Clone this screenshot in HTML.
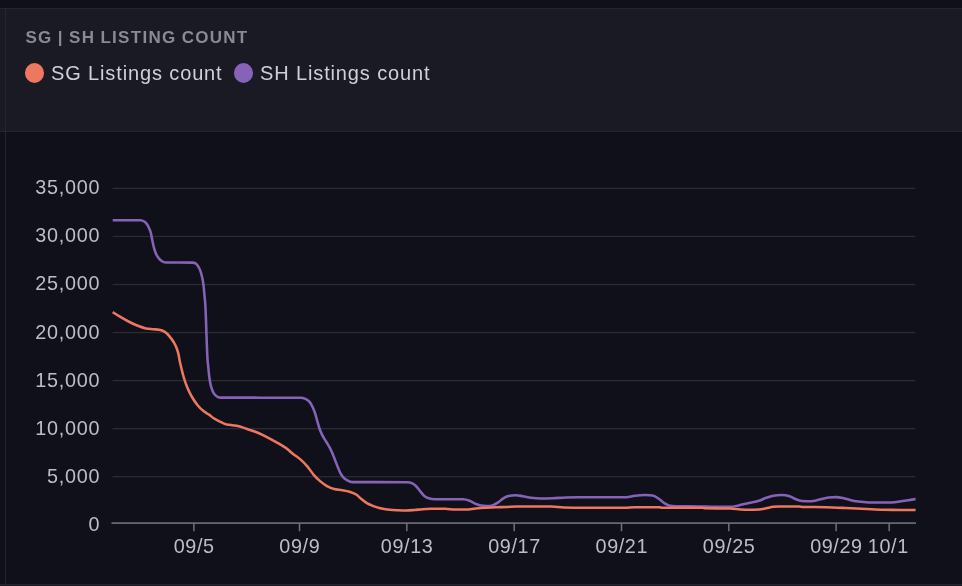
<!DOCTYPE html>
<html><head><meta charset="utf-8"><title>SG | SH Listing Count</title>
<style>
html,body{margin:0;padding:0;}
body{width:962px;height:586px;background:#10101a;overflow:hidden;position:relative;font-family:"Liberation Sans",sans-serif;}
.hdr{position:absolute;left:0;top:8px;width:962px;height:123px;background:#1a1a24;border-top:1px solid #25252f;box-sizing:border-box;}
.hb{position:absolute;left:0;top:131px;width:962px;height:1px;background:#25252f;}
.vl{position:absolute;left:5px;top:8px;width:1px;height:578px;background:#25252f;}
.bl{position:absolute;left:0;top:584px;width:962px;height:2px;background:#1a1a24;border-top:1px solid #25252f;box-sizing:border-box;}
.title{position:absolute;left:25.5px;top:27.5px;font-size:17px;line-height:20px;font-weight:bold;color:#8a8a97;letter-spacing:1.28px;word-spacing:-0.8px;white-space:nowrap;}
.lg{position:absolute;top:63px;transform:translateY(0.45px);height:20px;line-height:20px;font-size:20px;color:#d0d0da;white-space:nowrap;letter-spacing:0.87px;}
.dot{position:absolute;width:19.4px;height:20.1px;border-radius:50%;top:62.9px;}
svg{position:absolute;left:0;top:0;}
.tk{font-family:"Liberation Sans",sans-serif;font-size:19.8px;letter-spacing:0.6px;fill:#bdbdc6;}
.ty{letter-spacing:0.72px;}
</style></head><body>
<div class="hdr"></div><div class="hb"></div><div class="vl"></div><div class="bl"></div>
<div class="title">SG | SH LISTING COUNT</div>
<div class="dot" style="left:24.9px;background:#ee7762"></div>
<div class="lg" style="left:51px">SG Listings count</div>
<div class="dot" style="left:233.9px;background:#8663b9"></div>
<div class="lg" style="left:260px">SH Listings count</div>
<svg width="962" height="586" viewBox="0 0 962 586">
<rect x="112.6" y="187.75" width="802.8" height="1.3" fill="#2b2b33"/>
<rect x="112.6" y="235.80" width="802.8" height="1.3" fill="#2b2b33"/>
<rect x="112.6" y="283.85" width="802.8" height="1.3" fill="#2b2b33"/>
<rect x="112.6" y="331.90" width="802.8" height="1.3" fill="#2b2b33"/>
<rect x="112.6" y="379.95" width="802.8" height="1.3" fill="#2b2b33"/>
<rect x="112.6" y="428.00" width="802.8" height="1.3" fill="#2b2b33"/>
<rect x="112.6" y="476.05" width="802.8" height="1.3" fill="#2b2b33"/>
<rect x="111.5" y="522.3" width="804.5" height="1.6" fill="#71717b"/>
<rect x="193.15" y="523" width="1.5" height="8.2" fill="#71717b"/>
<text class="tk" x="194.20" y="553.2" text-anchor="middle">09/5</text>
<rect x="298.75" y="523" width="1.5" height="8.2" fill="#71717b"/>
<text class="tk" x="299.80" y="553.2" text-anchor="middle">09/9</text>
<rect x="406.05" y="523" width="1.5" height="8.2" fill="#71717b"/>
<text class="tk" x="407.10" y="553.2" text-anchor="middle">09/13</text>
<rect x="513.45" y="523" width="1.5" height="8.2" fill="#71717b"/>
<text class="tk" x="514.50" y="553.2" text-anchor="middle">09/17</text>
<rect x="620.75" y="523" width="1.5" height="8.2" fill="#71717b"/>
<text class="tk" x="621.80" y="553.2" text-anchor="middle">09/21</text>
<rect x="728.05" y="523" width="1.5" height="8.2" fill="#71717b"/>
<text class="tk" x="729.10" y="553.2" text-anchor="middle">09/25</text>
<rect x="835.35" y="523" width="1.5" height="8.2" fill="#71717b"/>
<text class="tk" x="836.40" y="553.2" text-anchor="middle">09/29</text>
<rect x="888.45" y="523" width="1.5" height="8.2" fill="#71717b"/>
<text class="tk" x="888.30" y="553.2" text-anchor="middle">10/1</text>
<text class="tk ty" x="100.2" y="194.35" text-anchor="end">35,000</text>
<text class="tk ty" x="100.2" y="242.40" text-anchor="end">30,000</text>
<text class="tk ty" x="100.2" y="290.45" text-anchor="end">25,000</text>
<text class="tk ty" x="100.2" y="338.50" text-anchor="end">20,000</text>
<text class="tk ty" x="100.2" y="386.55" text-anchor="end">15,000</text>
<text class="tk ty" x="100.2" y="434.60" text-anchor="end">10,000</text>
<text class="tk ty" x="100.2" y="482.65" text-anchor="end">5,000</text>
<text class="tk ty" x="100.2" y="530.70" text-anchor="end">0</text>
<path d="M112.70,220.20C121.87,220.20,131.03,220.20,140.20,220.20C141.57,220.20,142.93,220.63,144.30,221.50C145.33,222.16,146.37,223.08,147.40,224.80C148.07,225.91,148.73,227.23,149.40,228.90C149.93,230.24,150.47,231.20,151.00,233.50C151.33,234.94,151.67,236.98,152.00,238.70C152.33,240.42,152.67,242.27,153.00,243.80C153.43,245.79,153.87,247.40,154.30,248.90C154.90,250.98,155.50,252.61,156.10,254.00C156.97,256.01,157.83,256.98,158.70,258.10C159.70,259.39,160.70,260.29,161.70,261.00C163.07,261.97,164.43,262.49,165.80,262.50C174.70,262.57,183.60,262.53,192.50,262.60C193.53,262.61,194.57,262.87,195.60,263.40C196.43,263.83,197.27,264.97,198.10,266.30C198.80,267.41,199.50,268.44,200.20,270.40C200.70,271.80,201.20,273.45,201.70,275.50C202.13,277.27,202.57,278.75,203.00,281.60C203.27,283.36,203.53,285.19,203.80,287.80C204.03,290.08,204.27,293.28,204.50,295.90C204.77,298.90,205.03,300.04,205.30,304.60C205.53,308.59,205.77,314.04,206.00,320.40C206.17,324.94,206.33,330.99,206.50,335.70C206.70,341.36,206.90,346.62,207.10,351.00C207.30,355.38,207.50,359.57,207.70,362.00C207.83,363.62,207.97,364.05,208.10,365.20C208.43,368.09,208.77,372.65,209.10,375.50C209.53,379.21,209.97,381.45,210.40,383.70C211.10,387.33,211.80,388.97,212.50,390.80C213.50,393.42,214.50,394.46,215.50,395.40C217.07,396.87,218.63,397.60,220.20,397.60C246.93,397.67,273.67,397.63,300.40,397.70C302.10,397.70,303.80,398.07,305.50,398.80C306.87,399.39,308.23,400.12,309.60,401.90C310.60,403.20,311.60,404.83,312.60,407.00C313.47,408.88,314.33,410.99,315.20,413.70C315.87,415.78,316.53,418.47,317.20,420.80C317.90,423.24,318.60,425.92,319.30,428.00C320.13,430.48,320.97,432.31,321.80,434.10C322.83,436.31,323.87,437.85,324.90,439.60C325.93,441.35,326.97,442.82,328.00,444.60C328.67,445.75,329.33,446.90,330.00,448.20C331.37,450.86,332.73,454.02,334.10,457.40C335.13,459.95,336.17,463.03,337.20,465.60C338.23,468.17,339.27,470.81,340.30,472.80C341.30,474.72,342.30,476.21,343.30,477.40C344.67,479.03,346.03,479.64,347.40,480.40C349.13,481.36,350.87,482.09,352.60,482.10C370.80,482.17,389.00,482.13,407.20,482.20C408.90,482.21,410.60,482.60,412.30,483.40C413.67,484.04,415.03,485.13,416.40,486.50C417.77,487.87,419.13,489.98,420.50,491.60C421.87,493.22,423.23,495.08,424.60,496.20C425.97,497.32,427.33,497.85,428.70,498.30C430.73,498.97,432.77,499.30,434.80,499.30C444.33,499.30,453.87,499.30,463.40,499.30C465.47,499.30,467.53,500.02,469.60,500.80C471.63,501.56,473.67,503.06,475.70,503.90C477.40,504.60,479.10,505.33,480.80,505.60C482.87,505.93,484.93,506.10,487.00,506.10C489.03,506.10,491.07,505.77,493.10,505.10C494.80,504.54,496.50,503.53,498.20,502.40C499.90,501.27,501.60,499.38,503.30,498.30C505.03,497.20,506.77,496.24,508.50,495.90C510.87,495.43,513.23,495.20,515.60,495.20C518.00,495.20,520.40,495.80,522.80,496.20C525.53,496.65,528.27,497.42,531.00,497.80C534.33,498.26,537.67,498.50,541.00,498.50C544.80,498.50,548.60,498.43,552.40,498.30C556.83,498.14,561.27,497.68,565.70,497.50C569.80,497.33,573.90,497.20,578.00,497.20C594.33,497.20,610.67,497.20,627.00,497.20C628.33,497.20,629.67,496.64,631.00,496.40C632.40,496.14,633.80,495.89,635.20,495.70C638.63,495.23,642.07,495.00,645.50,495.00C647.87,495.00,650.23,495.20,652.60,495.60C654.67,495.95,656.73,497.41,658.80,498.80C660.50,499.95,662.20,501.80,663.90,502.90C665.60,504.00,667.30,505.01,669.00,505.40C671.33,505.93,673.67,506.14,676.00,506.20C684.00,506.40,692.00,506.36,700.00,506.50C705.00,506.59,710.00,506.80,715.00,506.80C720.13,506.80,725.27,506.80,730.40,506.80C733.10,506.80,735.80,505.95,738.50,505.40C741.93,504.70,745.37,503.67,748.80,502.90C752.20,502.14,755.60,501.92,759.00,500.80C761.40,500.01,763.80,498.65,766.20,497.80C768.57,496.96,770.93,496.10,773.30,495.70C776.03,495.23,778.77,495.00,781.50,495.00C784.23,495.00,786.97,495.40,789.70,496.20C791.77,496.80,793.83,498.50,795.90,499.30C797.93,500.09,799.97,500.86,802.00,501.00C805.00,501.20,808.00,501.30,811.00,501.30C811.73,501.30,812.47,501.12,813.20,501.00C815.60,500.62,818.00,499.85,820.40,499.30C823.10,498.68,825.80,497.80,828.50,497.50C830.90,497.23,833.30,497.10,835.70,497.10C838.10,497.10,840.50,497.51,842.90,498.00C845.27,498.48,847.63,499.43,850.00,500.00C852.73,500.66,855.47,501.21,858.20,501.60C861.63,502.09,865.07,502.40,868.50,502.40C876.33,502.40,884.17,502.40,892.00,502.40C895.00,502.40,898.00,501.62,901.00,501.20C903.33,500.88,905.67,500.54,908.00,500.20C910.53,499.84,913.07,499.47,915.60,499.10" fill="none" stroke="#8663b9" stroke-width="2.55" stroke-linejoin="round"/>
<path d="M112.70,312.10C115.27,313.73,117.83,315.37,120.40,316.90C123.10,318.51,125.80,320.10,128.50,321.50C131.60,323.11,134.70,324.60,137.80,325.80C140.50,326.84,143.20,327.83,145.90,328.40C148.30,328.90,150.70,328.95,153.10,329.20C155.13,329.41,157.17,329.40,159.20,329.80C160.93,330.14,162.67,330.60,164.40,331.70C166.10,332.78,167.80,334.31,169.50,336.30C170.87,337.90,172.23,339.59,173.60,342.00C174.60,343.76,175.60,345.25,176.60,348.10C177.30,350.10,178.00,351.72,178.70,355.30C178.97,356.66,179.23,358.51,179.50,359.90C179.90,361.99,180.30,363.48,180.70,365.20C181.73,369.63,182.77,373.93,183.80,377.50C185.00,381.65,186.20,384.82,187.40,387.80C188.93,391.61,190.47,394.30,192.00,397.00C193.87,400.28,195.73,402.89,197.60,405.20C199.67,407.76,201.73,409.64,203.80,411.30C205.67,412.80,207.53,413.53,209.40,414.90C210.70,415.85,212.00,417.09,213.30,418.00C215.70,419.68,218.10,420.64,220.50,421.80C222.53,422.78,224.57,423.99,226.60,424.50C229.00,425.10,231.40,425.03,233.80,425.40C235.83,425.72,237.87,425.98,239.90,426.50C242.30,427.12,244.70,428.17,247.10,429.00C249.83,429.94,252.57,430.73,255.30,431.80C258.03,432.87,260.77,434.11,263.50,435.40C266.20,436.68,268.90,438.06,271.60,439.50C274.33,440.96,277.07,442.45,279.80,444.10C282.20,445.55,284.60,446.82,287.00,448.70C288.73,450.05,290.47,451.86,292.20,453.30C294.93,455.57,297.67,456.97,300.40,459.40C302.77,461.50,305.13,463.81,307.50,466.60C309.57,469.04,311.63,472.40,313.70,474.80C315.73,477.16,317.77,479.13,319.80,480.90C322.20,482.99,324.60,484.73,327.00,486.10C329.37,487.45,331.73,488.47,334.10,489.10C336.83,489.83,339.57,489.73,342.30,490.20C344.70,490.62,347.10,490.92,349.50,491.70C351.87,492.47,354.23,493.11,356.60,494.80C358.10,495.87,359.60,497.56,361.10,498.80C363.17,500.51,365.23,502.18,367.30,503.40C369.33,504.60,371.37,505.33,373.40,506.10C376.13,507.14,378.87,507.88,381.60,508.50C384.33,509.12,387.07,509.50,389.80,509.80C392.53,510.10,395.27,510.18,398.00,510.30C400.73,510.42,403.47,510.50,406.20,510.50C408.93,510.50,411.67,510.22,414.40,510.00C417.13,509.78,419.87,509.40,422.60,509.20C425.30,509.00,428.00,508.80,430.70,508.80C435.47,508.80,440.23,508.80,445.00,508.80C448.40,508.80,451.80,509.50,455.20,509.50C458.63,509.50,462.07,509.50,465.50,509.50C468.90,509.50,472.30,508.78,475.70,508.50C479.10,508.22,482.50,508.00,485.90,507.80C489.33,507.60,492.77,507.43,496.20,507.30C499.60,507.17,503.00,507.12,506.40,507.00C509.80,506.88,513.20,506.67,516.60,506.60C520.03,506.53,523.47,506.50,526.90,506.50C535.07,506.50,543.23,506.50,551.40,506.50C555.50,506.50,559.60,507.38,563.70,507.50C570.50,507.70,577.30,507.80,584.10,507.80C597.73,507.80,611.37,507.80,625.00,507.80C628.07,507.80,631.13,507.20,634.20,507.20C642.73,507.20,651.27,507.20,659.80,507.20C660.47,507.20,661.13,507.80,661.80,507.80C675.47,507.80,689.13,507.80,702.80,507.80C703.47,507.80,704.13,508.18,704.80,508.20C710.20,508.33,715.60,508.34,721.00,508.40C724.13,508.44,727.27,508.43,730.40,508.50C733.80,508.57,737.20,509.28,740.60,509.50C743.33,509.67,746.07,509.80,748.80,509.80C752.20,509.80,755.60,509.70,759.00,509.50C761.40,509.36,763.80,508.65,766.20,508.20C768.57,507.75,770.93,507.07,773.30,506.80C775.03,506.60,776.77,506.50,778.50,506.50C785.30,506.50,792.10,506.50,798.90,506.50C800.27,506.50,801.63,506.87,803.00,506.90C805.67,506.97,808.33,506.97,811.00,507.00C815.83,507.06,820.67,507.08,825.50,507.20C832.30,507.37,839.10,507.70,845.90,508.00C852.73,508.30,859.57,508.67,866.40,509.00C871.87,509.27,877.33,509.74,882.80,509.80C888.87,509.87,894.93,509.90,901.00,509.90C905.87,509.90,910.73,509.90,915.60,509.90" fill="none" stroke="#ee7762" stroke-width="2.55" stroke-linejoin="round"/>
</svg>
</body></html>
